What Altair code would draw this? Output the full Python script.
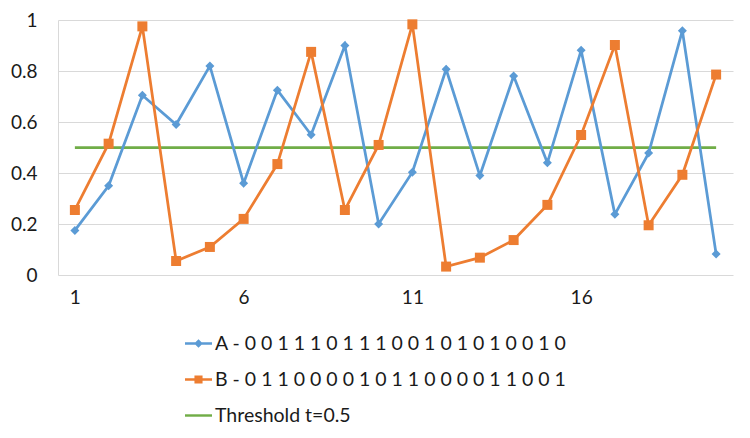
import altair as alt
import pandas as pd

# ---- data ----
x_vals = list(range(1, 21))
series_a = [0.175, 0.35, 0.705, 0.59, 0.82, 0.36, 0.725, 0.55, 0.90, 0.20,
            0.403, 0.807, 0.39, 0.78, 0.44, 0.881, 0.238, 0.478, 0.958, 0.082]
series_b = [0.255, 0.515, 0.975, 0.055, 0.11, 0.22, 0.435, 0.875, 0.255, 0.51,
            0.983, 0.033, 0.068, 0.137, 0.275, 0.549, 0.902, 0.195, 0.393, 0.786]
threshold = [0.5, 0.5, 0.5, 0.5, 0.5, 0.5, 0.5, 0.5, 0.5, 0.5,
             0.5, 0.5, 0.5, 0.5, 0.5, 0.5, 0.5, 0.5, 0.5, 0.5]
labels = [
    "A - 0 0 1 1 1 0 1 1 1 0 0 1 0 1 0 1 0 0 1 0",
    "B - 0 1 1 0 0 0 0 1 0 1 1 0 0 0 0 1 1 0 0 1",
    "Threshold t=0.5",
]
colors = ["#5B9BD5", "#ED7D31", "#70AD47"]
x_tick_values = [1, 6, 11, 16]
y_tick_values = [0, 0.2, 0.4, 0.6, 0.8, 1]

rows = []
for name, vals in zip(labels, [series_a, series_b, threshold]):
    for xv, yv in zip(x_vals, vals):
        rows.append({"x": xv, "value": yv, "series": name})
df = pd.DataFrame(rows)

FONT = "Lato"
TEXT = "#1a1a1a"

# legend symbols: line with marker (custom paths in [-1, 1])
bar = "M-1,-0.09H1V0.09H-1Z"
legend_paths = [
    bar + " M0,-0.32L0.32,0L0,0.32L-0.32,0Z",
    bar + " M-0.3,-0.3H0.3V0.3H-0.3Z",
    bar,
]

base = alt.Chart(df).encode(
    x=alt.X(
        "x:Q",
        scale=alt.Scale(domain=[0.5, 20.5], nice=False, zero=False),
        axis=alt.Axis(values=x_tick_values, grid=False, domain=False, ticks=False,
                      labelPadding=13, title=None, labelFont=FONT,
                      labelFontSize=19, labelColor=TEXT),
    ),
    y=alt.Y(
        "value:Q",
        scale=alt.Scale(domain=[0, 1], nice=False),
        axis=alt.Axis(values=y_tick_values, format=".1~f", grid=True,
                      gridColor="#D9D9D9", gridWidth=1, domain=True,
                      domainColor="#D9D9D9", domainWidth=1, ticks=False,
                      labelPadding=21, title=None, labelFont=FONT,
                      labelFontSize=19, labelColor=TEXT),
    ),
)

line_a = base.transform_filter(alt.datum.series == labels[0]).mark_line(
    color=colors[0], strokeWidth=2.75)
pts_a = base.transform_filter(alt.datum.series == labels[0]).mark_point(
    shape="diamond", filled=True, size=81, color=colors[0], opacity=1)
line_b = base.transform_filter(alt.datum.series == labels[1]).mark_line(
    color=colors[1], strokeWidth=2.75)
pts_b = base.transform_filter(alt.datum.series == labels[1]).mark_point(
    shape="square", filled=True, size=100, color=colors[1], opacity=1)
line_t = base.transform_filter(alt.datum.series == labels[2]).mark_line(
    color=colors[2], strokeWidth=2.75)

legend = alt.Legend(
    orient="none", legendX=127, legendY=310, title=None,
    symbolSize=729, symbolStrokeWidth=0, labelFont=FONT, labelFontSize=19.5,
    labelColor=TEXT, labelOffset=3, rowPadding=13, labelLimit=600,
)
legend_layer = base.transform_filter("false").mark_point(
    filled=True, opacity=1).encode(
    color=alt.Color("series:N", scale=alt.Scale(domain=labels, range=colors),
                    legend=legend),
    shape=alt.Shape("series:N", scale=alt.Scale(domain=labels, range=legend_paths),
                    legend=legend),
)

chart = alt.layer(line_t, line_a, line_b, pts_a, pts_b, legend_layer).properties(
    width=675, height=255,
    autosize=alt.AutoSizeParams(type="none"),
    padding={"left": 50, "top": 12, "right": 8, "bottom": 150},
    background="white",
).configure_view(stroke=None)

chart.save("out.html", embed_options={"renderer": "svg", "actions": False})
